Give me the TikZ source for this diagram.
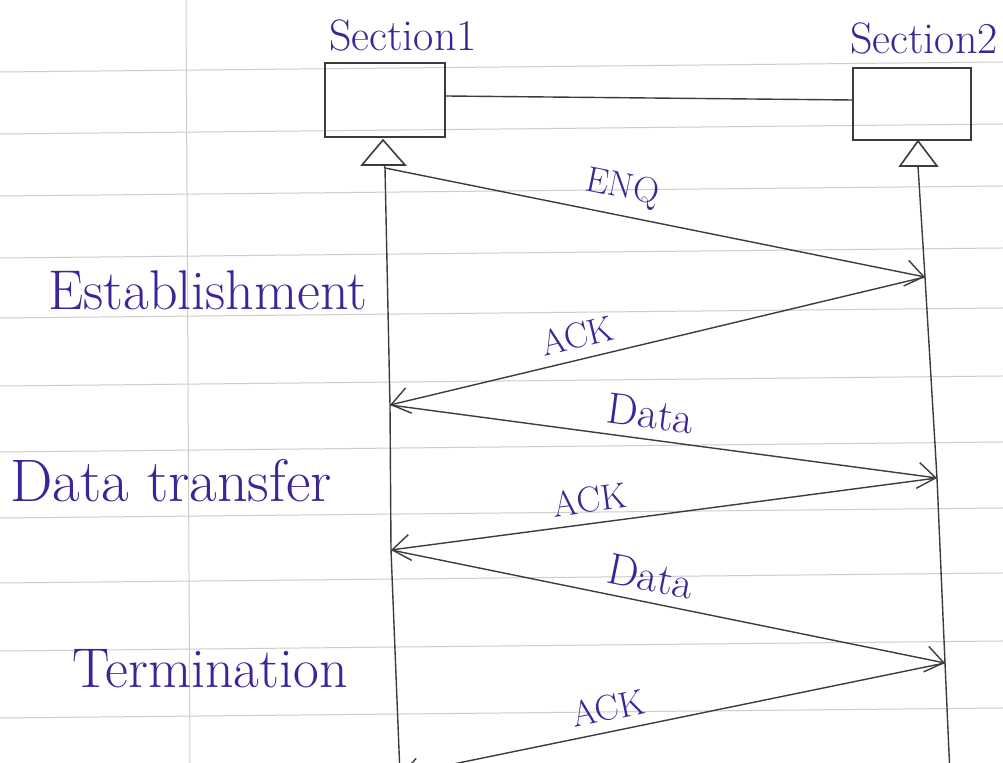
\documentclass[tikz,border=0pt]{standalone}
\usepackage{tikz}
\usetikzlibrary{arrows.meta,calc}
\definecolor{ink}{RGB}{62,36,150}
\definecolor{pencil}{RGB}{60,60,60}
\definecolor{rule}{RGB}{205,205,205}
\begin{document}
\begin{tikzpicture}[x=0.5pt,y=-0.5pt,>={Straight Barb[length=9pt,width=13pt]},
	box/.style={draw=pencil,line width=0.8pt,minimum width=60pt,minimum height=37pt,inner sep=0pt},
	life/.style={draw=pencil,line width=0.7pt},
	msg/.style={->,draw=pencil,line width=0.7pt},
	mlabel/.style={text=ink,font=\fontsize{18}{20}\selectfont,sloped,above,inner sep=5pt},
	phase/.style={text=ink,font=\fontsize{28}{30}\selectfont,anchor=base west,inner sep=0pt},
	paper/.style={draw=rule,line width=0.5pt},
	]
	% page
	\useasboundingbox (0,0) rectangle (1003,763);
	\clip (0,0) rectangle (1003,763);
	\fill[white] (0,0) rectangle (1003,763);
	
	% ruled paper
	\foreach \y in {66,128,190,252,312,380,446,512,577,645,712} {
		\draw[paper] (0,\y+6) -- (1003,\y-4);
	}
	\draw[paper] (186,0) -- (190,763);
	
	% sections
	\node[box] (s1) at (385,100) {};
	\node[box,minimum width=59pt,minimum height=36pt] (s2) at (912,104) {};
	\node[text=ink,font=\fontsize{22}{24}\selectfont,anchor=south] (s1l) at (403,58) {Section1};
	\node[text=ink,font=\fontsize{22}{24}\selectfont,anchor=south] (s2l) at (924,61) {Section2};
	\draw[life] (s1.east) ++(0,-4) -- ($(s2.west)+(0,-4)$);
	
	% triangles below boxes
	\draw[life,line width=0.8pt] (383,140) -- (362,165) -- (405,165) -- cycle;
	\draw[life,line width=0.8pt] (918,141) -- (900,166) -- (937,166) -- cycle;
	
	% points on the lifelines
	\coordinate (a0) at (385,168);
	\coordinate (b1) at (925,277);
	\coordinate (a2) at (390,405);
	\coordinate (b3) at (937,478);
	\coordinate (a4) at (391,550);
	\coordinate (b5) at (945,663);
	\coordinate (a6) at (400,775);
	\coordinate (b6) at (950,775);
	
	% lifelines
	\draw[life] (384,165) -- (a0) -- (a2) -- (a4) -- (a6);
	\draw[life] (918,166) -- (b1) -- (b3) -- (b5) -- (b6);
	
	% messages
	\draw[msg] (a0) -- (b1) node[mlabel,pos=0.43] {ENQ};
	\draw[msg] (b1) -- (a2) node[mlabel,pos=0.64] {ACK};
	\draw[msg] (a2) -- (b3) node[mlabel,pos=0.47,font=\fontsize{22}{24}\selectfont] {Data};
	\draw[msg] (b3) -- (a4) node[mlabel,pos=0.63] {ACK};
	\draw[msg] (a4) -- (b5) node[mlabel,pos=0.46,font=\fontsize{22}{24}\selectfont] {Data};
	\draw[msg] (b5) -- (a6) node[mlabel,pos=0.61] {ACK};
	
	% phases
	\node[phase] (est) at (48,310) {Establishment};
	\node[phase,font=\fontsize{30}{32}\selectfont] (dt) at (10,502) {Data transfer};
	\node[phase] (term) at (72,688) {Termination};
\end{tikzpicture}
\end{document}
